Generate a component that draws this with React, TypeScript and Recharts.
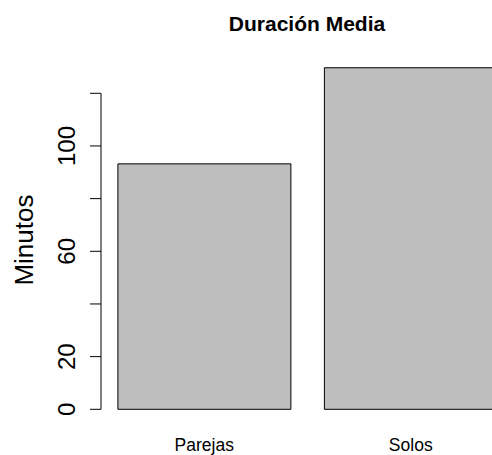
import React from 'react';
import { BarChart, Bar, XAxis, YAxis, ReferenceLine, Label } from 'recharts';

const categories = ['Parejas', 'Solos'];
const minutes = [93.2, 129.7];
const yTicks = [0, 20, 40, 60, 80, 100, 120];
const yTickLabels = ['0', '20', '', '60', '', '100', ''];
const title = 'Duración Media';
const yLabel = 'Minutos';

const data = categories.map((c, i) => ({ name: c, value: minutes[i] }));

const FONT = '"Liberation Sans", Arial, Helvetica, sans-serif';

const YTick = (props: any) => {
  const { x, y, payload } = props;
  const idx = yTicks.indexOf(payload.value);
  const label = idx >= 0 ? yTickLabels[idx] : '';
  if (!label) return <g />;
  return (
    <text
      x={x}
      y={y}
      transform={`rotate(-90, ${x}, ${y})`}
      textAnchor="middle"
      fontSize={24}
      fontFamily={FONT}
      fill="#000"
    >
      {label}
    </text>
  );
};

const XTick = (props: any) => {
  const { x, y, payload } = props;
  return (
    <text x={x} y={y + 42} textAnchor="middle" fontSize={17.5} fontFamily={FONT} fill="#000">
      {payload.value}
    </text>
  );
};

const YLabelContent = (props: any) => {
  const vb = props.viewBox || { x: 0, y: 0, width: 0, height: 0 };
  const x = vb.x + 33;
  const y = vb.y + vb.height / 2 + 8.5;
  return (
    <text
      x={x}
      y={y}
      transform={`rotate(-90, ${x}, ${y})`}
      textAnchor="middle"
      fontSize={26}
      fontFamily={FONT}
      fill="#000"
    >
      {yLabel}
    </text>
  );
};

export default function App() {
  return (
    <div
      style={{
        position: 'fixed',
        left: 0,
        top: 0,
        width: 492,
        height: 455,
        overflow: 'hidden',
        background: '#fff',
      }}
    >
      <div
        style={{
          position: 'absolute',
          left: 107,
          width: 400,
          top: 12,
          textAlign: 'center',
          fontFamily: FONT,
          fontWeight: 'bold',
          fontSize: 21,
          color: '#000',
          lineHeight: 'normal',
        }}
      >
        {title}
      </div>
      <BarChart
        width={514}
        height={455}
        data={data}
        margin={{ top: 53.8, right: 0, bottom: 0, left: 0 }}
        barCategoryGap={16.9}
      >
        <XAxis
          dataKey="name"
          axisLine={false}
          tickLine={false}
          tickSize={0}
          tickMargin={0}
          height={45.7}
          tick={<XTick />}
          interval={0}
        />
        <YAxis
          domain={[0, 135]}
          ticks={yTicks}
          interval={0}
          width={101}
          axisLine={false}
          tickLine={{ stroke: '#000', strokeWidth: 1 }}
          tickSize={11}
          tickMargin={15}
          tick={<YTick />}
        >
          <Label content={<YLabelContent />} />
        </YAxis>
        <ReferenceLine
          segment={[
            { x: categories[0], y: yTicks[0] },
            { x: categories[0], y: yTicks[yTicks.length - 1] },
          ]}
          position="start"
          stroke="#000"
          strokeWidth={1}
          ifOverflow="visible"
        />
        <Bar dataKey="value" fill="#bebebe" stroke="#000" strokeWidth={1} isAnimationActive={false} />
      </BarChart>
    </div>
  );
}
